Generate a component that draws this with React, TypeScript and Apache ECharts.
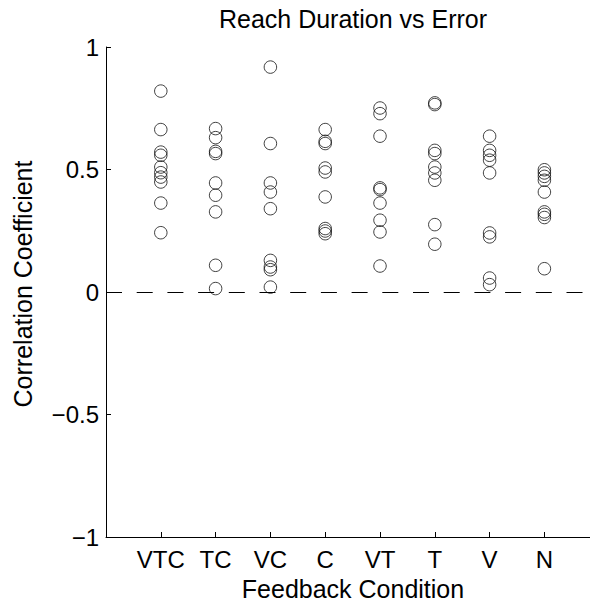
import React, { useEffect, useRef } from "react";
import * as echarts from "echarts";

const categories = ["VTC", "TC", "VC", "C", "VT", "T", "V", "N"];
const vtcValues = [0.82, 0.663, 0.571, 0.558, 0.51, 0.487, 0.469, 0.449, 0.363, 0.242];
const tcValues = [0.667, 0.63, 0.574, 0.565, 0.445, 0.395, 0.327, 0.109, 0.014];
const vcValues = [0.918, 0.606, 0.445, 0.408, 0.34, 0.129, 0.102, 0.091, 0.02];
const cValues = [0.663, 0.615, 0.606, 0.506, 0.49, 0.388, 0.259, 0.249, 0.238];
const vtValues = [0.751, 0.728, 0.636, 0.425, 0.418, 0.363, 0.293, 0.245, 0.106];
const tValues = [0.772, 0.765, 0.578, 0.565, 0.51, 0.486, 0.456, 0.275, 0.195];
const vValues = [0.636, 0.578, 0.558, 0.538, 0.486, 0.241, 0.225, 0.057, 0.03];
const nValues = [0.499, 0.486, 0.472, 0.456, 0.408, 0.327, 0.317, 0.304, 0.095];
const yTicks = [-1, -0.5, 0, 0.5, 1];

const title = "Reach Duration vs Error";
const xName = "Feedback Condition";
const yName = "Correlation Coefficient";

const groups = [vtcValues, tcValues, vcValues, cValues, vtValues, tValues, vValues, nValues];

const FONT = '"Liberation Sans", Arial, Helvetica, sans-serif';

export default function App() {
  const ref = useRef<HTMLDivElement>(null);

  useEffect(() => {
    if (!ref.current) return;
    const chart = echarts.init(ref.current, undefined, { renderer: "svg" });
    const points: number[][] = [];
    groups.forEach((vals, i) => {
      vals.forEach((v) => points.push([i + 1, v]));
    });
    const fmtY = (v: number) => (v < 0 ? "\u2212" + String(Math.abs(v)) : String(v));
    chart.setOption({
      animation: false,
      backgroundColor: "#fff",
      grid: { left: 106, top: 47, right: 0, height: 490, containLabel: false },
      xAxis: {
        type: "value",
        min: 0,
        max: 8.832,
        interval: 1,
        splitLine: { show: false },
        axisLine: { show: true, onZero: false, lineStyle: { color: "#000", width: 1 } },
        axisTick: { show: true, inside: true, length: 5, lineStyle: { color: "#000" } },
        axisLabel: {
          show: true,
          margin: 10,
          color: "#000",
          fontFamily: FONT,
          fontSize: 24,
          showMaxLabel: false,
          formatter: (v: number) => (v >= 1 && v <= categories.length && Number.isInteger(v) ? categories[v - 1] : ""),
        },
      },
      yAxis: {
        type: "value",
        min: yTicks[0],
        max: yTicks[yTicks.length - 1],
        interval: 0.5,
        splitLine: { show: false },
        axisLine: { show: true, onZero: false, lineStyle: { color: "#000", width: 1 } },
        axisTick: { show: true, inside: true, length: 5, lineStyle: { color: "#000" } },
        axisLabel: {
          show: true,
          margin: 7,
          color: "#000",
          fontFamily: FONT,
          fontSize: 24,
          formatter: fmtY,
        },
      },
      graphic: [
        {
          type: "text",
          x: 353,
          y: 18.5,
          style: {
            text: title,
            align: "center",
            verticalAlign: "middle",
            fill: "#000",
            font: `25px ${FONT}`,
          },
        },
        {
          type: "text",
          x: 353,
          y: 589,
          style: {
            text: xName,
            align: "center",
            verticalAlign: "middle",
            fill: "#000",
            font: `25px ${FONT}`,
          },
        },
        {
          type: "text",
          x: 23,
          y: 284,
          rotation: Math.PI / 2,
          style: {
            text: yName,
            align: "center",
            verticalAlign: "middle",
            fill: "#000",
            font: `25px ${FONT}`,
          },
        },
      ],
      series: [
        {
          type: "scatter",
          data: points,
          symbol: "circle",
          symbolSize: 12.5,
          itemStyle: { color: "rgba(0,0,0,0)", borderColor: "#111", borderWidth: 1 },
          emphasis: { disabled: true },
          markLine: {
            silent: true,
            symbol: ["none", "none"],
            label: { show: false },
            lineStyle: { color: "#000", width: 1.2, type: [16, 14.7] },
            data: [{ yAxis: 0 }],
          },
          z: 3,
        },
      ],
    });
    return () => chart.dispose();
  }, []);

  return (
    <div
      ref={ref}
      style={{ position: "fixed", left: 0, top: 0, width: 590, height: 605, background: "#fff" }}
    />
  );
}
